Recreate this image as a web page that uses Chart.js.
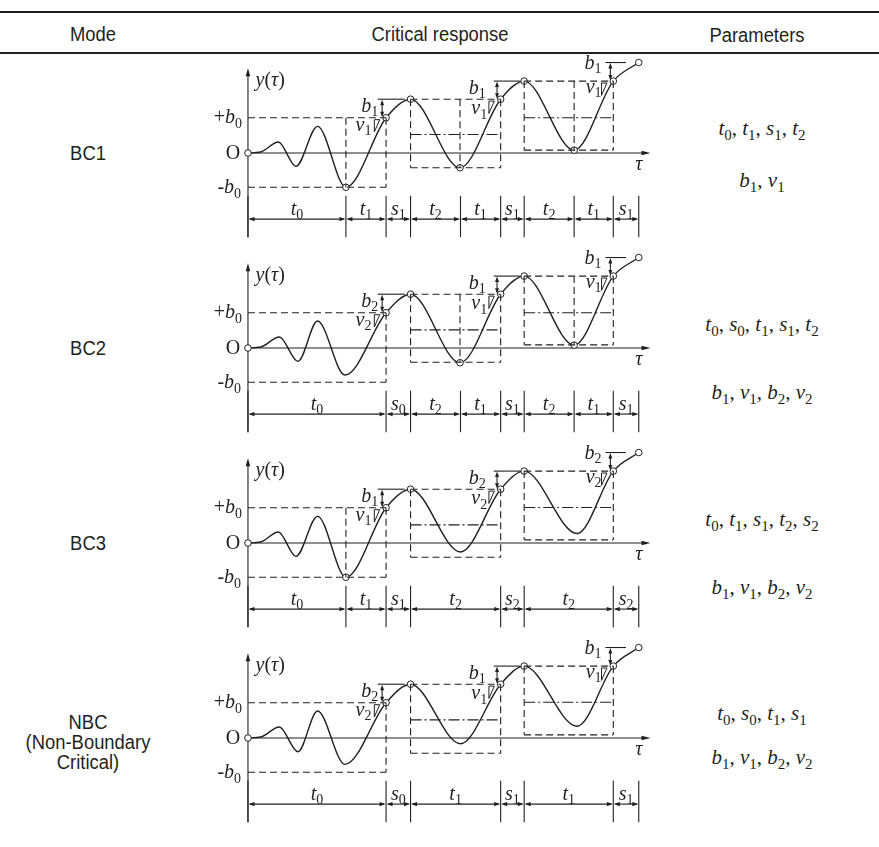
<!DOCTYPE html>
<html><head><meta charset="utf-8">
<script src="https://cdn.jsdelivr.net/npm/chart.js@4/dist/chart.umd.min.js"></script>
<style>
body{margin:0;background:#fff;width:879px;height:847px;position:relative;overflow:hidden;font-family:"Liberation Sans",Arial,sans-serif;color:#231f20}
.rule{position:absolute;left:0;width:879px;background:#231f20}
.hd{position:absolute;font-size:20px;transform:translate(-50%,-50%) scaleX(0.92);white-space:nowrap}
.mode{position:absolute;font-size:20px;text-align:center;transform:translate(-50%,-50%) scaleX(0.92);white-space:nowrap}
.par{position:absolute;font-family:"Liberation Serif","Times New Roman",serif;font-size:21px;transform:translate(-50%,-50%);white-space:nowrap}
.par i{font-style:italic}
.par sub{font-size:15px;vertical-align:-5px;font-style:normal;line-height:0}
canvas{position:absolute}
</style></head>
<body>
<div class="rule" style="top:11px;height:2px"></div>
<div class="rule" style="top:52px;height:1.5px"></div>
<div id="root"></div>
<script>
// ---------- table text ----------
const headers = ["Mode","Critical response","Parameters"];
const modeLabels = ["BC1","BC2","BC3","NBC"];
const modeNotes = [[],[],[],["(Non-Boundary","Critical)"]];
const timeParams = [["t0","t1","s1","t2"],["t0","s0","t1","s1","t2"],["t0","t1","s1","t2","s2"],["t0","s0","t1","s1"]];
const boundParams = [["b1","v1"],["b1","v1","b2","v2"],["b1","v1","b2","v2"],["b1","v1","b2","v2"]];

// ---------- axis level labels (y values, b0 = 37 units) ----------
const levelLabels = ["+b0","O","-b0"];
const levelValues = [37, 0, -36];

// ---------- time segments along tau (label, length) ----------
const segLabels = [
  ["t0","t1","s1","t2","t1","s1","t2","t1","s1"],
  ["t0","s0","t2","t1","s1","t2","t1","s1"],
  ["t0","t1","s1","t2","s2","t2","s2"],
  ["t0","s0","t1","s1","t1","s1"]
];
const segLengths = [
  [100,41,25,51,41,24,51,40,26],
  [141,25,51,41,24,51,40,26],
  [100,41,25,92,24,91,26],
  [141,25,92,24,91,26]
];

// ---------- response curve y(tau) ----------
const curveX = [
  [0,13,31,49,71,100,141,166,216.5,258,282,333,373,399],
  [0,13,32,51,71,99,141,166,216.5,258,282,333,373,399],
  [0,13,31,49,71,100,141,166,217,258,282,336,373,399],
  [0,13,32,51,71,99,141,166,217,258,282,336,373,399]
];
const curveY = [
  [0,1,11.6,-14,28,-36,37,56.5,-15.5,56.5,75.5,3,75.5,95],
  [0,1,11.6,-14,28.3,-28.4,37,56.5,-15.5,56.5,75.5,3,75.5,95],
  [0,1,11.6,-14,28,-36,37,56.5,-9.4,56.5,75.5,10,75.5,95],
  [0,1,11.6,-14.4,28.3,-27.7,37,56.5,-6,56.5,75.5,12.3,75.5,95]
];
const markedPoints = [
  [0,5,6,7,8,9,10,11,12,13],
  [0,6,7,8,9,10,11,12,13],
  [0,5,6,7,9,10,12,13],
  [0,6,7,9,10,12,13]
];

// ---------- dashed boxes: [x0, x1, top, bottom, leftEdge, midX, dashDotY] ----------
const boxes = [
  [[0,141,37,-36,false,100,null],[166,258,56.5,-15.5,true,216.5,19.5],[282,373,75.5,3,true,333,37]],
  [[0,141,37,-36,false,null,null],[166,258,56.5,-15,true,216.5,19],[282,373,75.5,3.3,true,333,37]],
  [[0,141,37,-36,false,100,null],[166,258,56.5,-15,true,null,19],[282,373,75.5,3.3,true,null,37.3]],
  [[0,141,37,-36,false,null,null],[166,258,56.5,-16,true,null,19],[282,373,75.5,3.3,true,null,37.6]]
];

// ---------- bound / velocity annotations (label pairs per crossing) ----------
const annotLabels = [
  [["b1","v1"],["b1","v1"],["b1","v1"]],
  [["b2","v2"],["b1","v1"],["b1","v1"]],
  [["b1","v1"],["b2","v2"],["b2","v2"]],
  [["b2","v2"],["b1","v1"],["b1","v1"]]
];
// crossing point x, lower level, upper level
const annotX = [141, 258, 373];
const annotLow = [37, 56.5, 75.5];
const annotHigh = [56.5, 75.5, 95];
// ---------------------------------------------------------------

const INK = "#231f20";
const root = document.getElementById('root');
function addDiv(cls, html, x, y){
  const d=document.createElement('div'); d.className=cls; d.innerHTML=html;
  d.style.left=x+'px'; d.style.top=y+'px'; root.appendChild(d); return d;
}
function mathHTML(s){ return '<i>'+s[0]+'</i><sub>'+s.slice(1)+'</sub>'; }

addDiv('hd', headers[0], 93, 34);
addDiv('hd', headers[1], 440, 34);
addDiv('hd', headers[2], 757, 35);

const modeY = [153, 348, 543, 722];
const parY = [[128,180],[324,392],[519,587],[713,757]];
modeLabels.forEach((m,i)=>{
  addDiv('mode', m, 88, modeY[i]);
  modeNotes[i].forEach((n,j)=> addDiv('mode', n, 88, modeY[i]+20*(j+1)));
  addDiv('par', timeParams[i].map(mathHTML).join(', '), 762, parY[i][0]);
  addDiv('par', boundParams[i].map(mathHTML).join(', '), 762, parY[i][1]);
});

// ---------- math text on canvas ----------
const F_IT = 'italic 20px "Liberation Serif", "Times New Roman", serif';
const F_UP = '20px "Liberation Serif", "Times New Roman", serif';
const F_SUB = '14px "Liberation Serif", "Times New Roman", serif';
function parseMath(s){
  const parts=[];
  for(const ch of s){
    if(/[0-9]/.test(ch) && parts.length && parts[parts.length-1].k==='it') parts.push({t:ch,k:'sub'});
    else if(/[a-zτ]/.test(ch)) parts.push({t:ch,k:'it'});
    else parts.push({t:ch,k:'up'});
  }
  return parts;
}
function fontOf(k){ return k==='it'?F_IT:(k==='sub'?F_SUB:F_UP); }
function drawMath(ctx, s, x, y, align){
  const parts=parseMath(s);
  let w=0; parts.forEach(p=>{ctx.font=fontOf(p.k); p.w=ctx.measureText(p.t).width; w+=p.w;});
  let cx = align==='right'? x-w : align==='center'? x-w/2 : x;
  ctx.textBaseline='alphabetic'; ctx.textAlign='left'; ctx.fillStyle=INK;
  parts.forEach(p=>{ctx.font=fontOf(p.k); ctx.fillText(p.t, cx, p.k==='sub'? y+4.5 : y); cx+=p.w;});
}
function arrowHead(ctx, x, y, dx, dy, len, hw){
  const nx=-dy, ny=dx;
  ctx.beginPath();
  ctx.moveTo(x,y);
  ctx.lineTo(x-dx*len+nx*hw, y-dy*len+ny*hw);
  ctx.lineTo(x-dx*len-nx*hw, y-dy*len-ny*hw);
  ctx.closePath(); ctx.fill();
}

function makePlugin(r){
  return {
    id:'diagram'+r,
    beforeDatasetsDraw(chart){
      const ctx=chart.ctx, X=v=>chart.scales.x.getPixelForValue(v), Y=v=>chart.scales.y.getPixelForValue(v);
      ctx.save(); ctx.strokeStyle=INK; ctx.fillStyle=INK; ctx.lineWidth=1.1; ctx.setLineDash([]);
      // y axis with arrow
      ctx.beginPath(); ctx.moveTo(X(0),Y(-88.4)); ctx.lineTo(X(0),Y(84)); ctx.stroke();
      arrowHead(ctx, X(0), Y(89), 0, -1, 8, 2.3);
      // tau axis with arrow
      ctx.beginPath(); ctx.moveTo(X(0),Y(0)); ctx.lineTo(X(406),Y(0)); ctx.stroke();
      arrowHead(ctx, X(411), Y(0), 1, 0, 9, 2.3);
      // segment dimension lines
      const segs=segLengths[r]; let acc=[0]; segs.forEach(l=>acc.push(acc[acc.length-1]+l));
      acc.forEach(b=>{ ctx.beginPath(); ctx.moveTo(X(b),Y(-45)); ctx.lineTo(X(b),Y(-88.4)); ctx.stroke(); });
      const dy=Y(-69.4);
      for(let i=0;i<segs.length;i++){
        const a=X(acc[i]), b=X(acc[i+1]);
        ctx.beginPath(); ctx.moveTo(a+2,dy); ctx.lineTo(b-2,dy); ctx.stroke();
        arrowHead(ctx, a+0.5, dy, -1, 0, 6, 2.1);
        arrowHead(ctx, b-0.5, dy, 1, 0, 6, 2.1);
        drawMath(ctx, segLabels[r][i], (a+b)/2, Y(-64.7), 'center');
      }
      // level labels
      drawMath(ctx, levelLabels[0], X(-6), Y(levelValues[0]-5.5), 'right');
      drawMath(ctx, levelLabels[1], X(-8), Y(levelValues[1]-6), 'right');
      drawMath(ctx, levelLabels[2], X(-7), Y(levelValues[2]-6.5), 'right');
      drawMath(ctx, 'y(τ)', X(7.7), Y(70), 'left');
      drawMath(ctx, 'τ', X(399), Y(-17.5), 'center');
      // bound annotations
      const bLabX=[133,242.7,361], bLabY=[43.5,62,88.5];
      const vLabX=[126,244.3,361], vLabY=[23.5,40.5,63.5];
      const extX0=[132.5,251,365], extX1=[160,278,386];
      const arrX=[137,254.3,370];
      for(let g=0; g<3; g++){
        const lo=annotLow[g], hi=annotHigh[g], xp=annotX[g];
        ctx.lineWidth=1.1;
        ctx.beginPath(); ctx.moveTo(X(extX0[g]),Y(hi)); ctx.lineTo(X(extX1[g]),Y(hi)); ctx.stroke();
        const ax=X(arrX[g]);
        ctx.beginPath(); ctx.moveTo(ax,Y(hi)+3); ctx.lineTo(ax,Y(lo)-3); ctx.stroke();
        arrowHead(ctx, ax, Y(hi)+0.5, 0, -1, 5.5, 2);
        arrowHead(ctx, ax, Y(lo)-0.5, 0, 1, 5.5, 2);
        ctx.lineWidth=1;
        ctx.beginPath();
        ctx.moveTo(X(xp-12),Y(lo-2)); ctx.lineTo(X(xp-6.5),Y(lo-2));
        ctx.lineTo(X(xp-12),Y(lo-15)); ctx.closePath(); ctx.stroke();
        drawMath(ctx, annotLabels[r][g][0], X(bLabX[g]), Y(bLabY[g]), 'right');
        drawMath(ctx, annotLabels[r][g][1], X(vLabX[g]), Y(vLabY[g]), 'right');
      }
      ctx.restore();
    }
  };
}

function seg(x1,y1,x2,y2,style){
  const base={type:'line',data:[{x:x1,y:y1},{x:x2,y:y2}],borderColor:INK,borderWidth:1.1,pointRadius:0,showLine:true,fill:false,tension:0};
  if(style==='dash') base.borderDash=[7,4];
  if(style==='dashdot') base.borderDash=[11,3,2,3];
  return base;
}

for(let r=0;r<4;r++){
  const cv=document.createElement('canvas');
  cv.width=486; cv.height=210;
  cv.style.left='194px'; cv.style.top=(48.3+195*r)+'px';
  cv.style.width='486px'; cv.style.height='210px';
  root.appendChild(cv);
  const ds=[];
  boxes[r].forEach(b=>{
    const [x0,x1,top,bot,leftEdge,midX,ddY]=b;
    ds.push(seg(x0,top,x1,top,'dash'));
    ds.push(seg(x0,bot,x1,bot,'dash'));
    ds.push(seg(x1,top,x1,bot,'dash'));
    if(leftEdge) ds.push(seg(x0,top,x0,bot,'dash'));
    if(midX!==null) ds.push(seg(midX,top,midX,bot,'dash'));
    if(ddY!==null) ds.push(seg(x0,ddY,x1,ddY,'dashdot'));
  });
  const marks=markedPoints[r];
  ds.push({
    type:'line',
    data: curveX[r].map((x,i)=>({x:x,y:curveY[r][i]})),
    borderColor:INK, borderWidth:1.4, showLine:true, fill:false,
    cubicInterpolationMode:'monotone',
    pointRadius: c=> marks.includes(c.dataIndex)?3.3:0,
    pointBackgroundColor:'#fff', pointBorderColor:INK, pointBorderWidth:1
  });
  new Chart(cv,{
    type:'scatter',
    data:{datasets:ds},
    options:{
      responsive:false, animation:false, events:[], devicePixelRatio:1,
      layout:{padding:0},
      plugins:{legend:{display:false},tooltip:{enabled:false}},
      scales:{
        x:{type:'linear',display:false,min:-50,max:436},
        y:{type:'linear',display:false,min:-105,max:105}
      }
    },
    plugins:[makePlugin(r)]
  });
}
</script>
</body></html>
